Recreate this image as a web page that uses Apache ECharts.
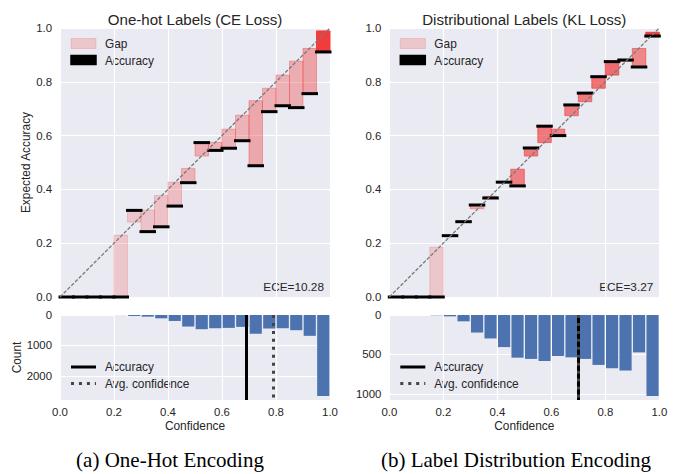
<!DOCTYPE html>
<html>
<head>
<meta charset="utf-8">
<script src="https://cdn.jsdelivr.net/npm/echarts@6/dist/echarts.min.js"></script>
<style>
html,body{margin:0;padding:0;background:#fff;}
#c{width:693px;height:474px;}
</style>
</head>
<body>
<div id="c"></div>
<script>
// ---------- data ----------
const binEdges = [0.00,0.05,0.10,0.15,0.20,0.25,0.30,0.35,0.40,0.45,0.50,0.55,0.60,0.65,0.70,0.75,0.80,0.85,0.90,0.95,1.00];
const xTicks = [0, 0.2, 0.4, 0.6, 0.8, 1.0];

const onehotConf  = [0,0,0,0,0.230,0.278,0.323,0.377,0.427,0.478,0.524,0.575,0.624,0.676,0.730,0.776,0.825,0.877,0.924,0.989];
const onehotAcc   = [0,0,0,0,0,0.322,0.243,0.261,0.338,0.425,0.574,0.545,0.553,0.581,0.488,0.689,0.711,0.704,0.756,0.911];
const onehotCount = [0,0,0,0,4,33,54,109,196,380,467,435,424,391,620,445,435,500,685,2663];
const onehotAvgAcc = 0.694;
const onehotAvgConf = 0.789;
const onehotECE = "ECE=10.28";

const distConf  = [0,0,0,0.185,0.226,0.277,0.328,0.374,0.425,0.475,0.524,0.574,0.624,0.674,0.726,0.776,0.825,0.877,0.924,0.984];
const distAcc   = [0,0,0,0,0.228,0.280,0.342,0.368,0.427,0.413,0.554,0.635,0.600,0.714,0.758,0.819,0.875,0.881,0.855,0.970];
const distCount = [0,0,0,4,17,80,222,297,406,540,556,582,519,536,556,632,674,703,473,1025];
const distAvgAcc = 0.705;
const distAvgConf = 0.701;
const distECE = "ECE=3.27";

const titles = ["One-hot Labels (CE Loss)", "Distributional Labels (KL Loss)"];
const captions = ["(a) One-Hot Encoding", "(b) Label Distribution Encoding"];

// ---------- styling ----------
const FONT = "'Liberation Sans', Arial, sans-serif";
const TXT = "#262626";
const BG = "#EAEAF2";
const HIST = "#4C72B0";

const chart = echarts.init(document.getElementById('c'), null, {renderer: 'svg'});

function gapData(conf, acc, count) {
  const maxC = Math.max(...count);
  return conf.map((c, i) => {
    const a = 0.2 + 0.8 * count[i] / maxC;
    return [binEdges[i], binEdges[i+1], Math.min(c, acc[i]), Math.max(c, acc[i]), a];
  });
}
function accData(acc) {
  return acc.map((a, i) => [binEdges[i], binEdges[i+1], a]);
}
function histData(count) {
  return count.map((n, i) => [binEdges[i], binEdges[i+1], n]);
}

function renderGap(params, api) {
  const x0 = api.value(0), x1 = api.value(1), lo = api.value(2), hi = api.value(3), a = api.value(4);
  const p0 = api.coord([x0, hi]), p1 = api.coord([x1, lo]);
  const col = 'rgba(240,60,60,' + a + ')';
  return {type: 'rect', shape: {x: p0[0], y: p0[1], width: p1[0] - p0[0], height: p1[1] - p0[1]},
          style: {fill: col, stroke: col, lineWidth: 1}};
}
function renderAcc(params, api) {
  const p0 = api.coord([api.value(0), api.value(2)]);
  const p1 = api.coord([api.value(1), api.value(2)]);
  return {type: 'rect', shape: {x: p0[0] - 1.5, y: p0[1] - 1.5, width: p1[0] - p0[0] + 3, height: 3},
          style: {fill: '#000'}};
}
function renderHist(params, api) {
  const x0 = api.value(0), x1 = api.value(1), w = x1 - x0;
  const p0 = api.coord([x0 + w * 0.05, 0]);
  const p1 = api.coord([x1 - w * 0.05, api.value(2)]);
  return {type: 'rect', shape: {x: p0[0], y: Math.min(p0[1], p1[1]), width: p1[0] - p0[0], height: Math.abs(p1[1] - p0[1])},
          style: {fill: HIST}};
}

const lefts = [60, 389.3];
const W = 270;
const grids = [];
lefts.forEach(l => {
  grids.push({left: l, top: 28, width: W, height: 269, backgroundColor: BG, show: true, borderWidth: 0});
  grids.push({left: l, top: 315, width: W, height: 85, backgroundColor: BG, show: true, borderWidth: 0});
});

const axisLabelStyle = {color: TXT, fontFamily: FONT, fontSize: 11.4};
const splitLine = {show: true, lineStyle: {color: '#ffffff', width: 1.1}};

const xAxes = grids.map((g, i) => ({
  type: 'value', gridIndex: i, min: 0, max: 1, interval: 0.2,
  axisLine: {show: false}, axisTick: {show: false}, splitLine,
  axisLabel: Object.assign({show: i % 2 === 1, margin: 6, formatter: v => v.toFixed(1)}, axisLabelStyle),
  name: i % 2 === 1 ? 'Confidence' : '', nameLocation: 'middle', nameGap: 20,
  nameTextStyle: {color: TXT, fontFamily: FONT, fontSize: 11.9}
}));

const histMax = [2796, 1076];
const histInterval = [1000, 500];
const yAxes = [];
[0, 1].forEach(k => {
  yAxes.push({
    type: 'value', gridIndex: 2 * k, min: 0, max: 1, interval: 0.2,
    axisLine: {show: false}, axisTick: {show: false}, splitLine,
    axisLabel: Object.assign({margin: 8, formatter: v => v.toFixed(1)}, axisLabelStyle),
    name: k === 0 ? 'Expected Accuracy' : '', nameLocation: 'middle', nameGap: 26,
    nameTextStyle: {color: TXT, fontFamily: FONT, fontSize: 11.9}
  });
  yAxes.push({
    type: 'value', gridIndex: 2 * k + 1, min: 0, max: histMax[k], interval: histInterval[k], inverse: true,
    axisLine: {show: false}, axisTick: {show: false}, splitLine,
    axisLabel: Object.assign({margin: 8, showMaxLabel: false, formatter: v => String(v)}, axisLabelStyle),
    name: k === 0 ? 'Count' : '', nameLocation: 'middle', nameGap: 30,
    nameTextStyle: {color: TXT, fontFamily: FONT, fontSize: 11.9}
  });
});

const sets = [
  {conf: onehotConf, acc: onehotAcc, count: onehotCount, avgAcc: onehotAvgAcc, avgConf: onehotAvgConf},
  {conf: distConf, acc: distAcc, count: distCount, avgAcc: distAvgAcc, avgConf: distAvgConf}
];
const series = [];
sets.forEach((s, k) => {
  const top = 2 * k, bot = 2 * k + 1;
  series.push({type: 'custom', name: 'Gap', xAxisIndex: top, yAxisIndex: top, renderItem: renderGap,
               data: gapData(s.conf, s.acc, s.count), z: 2, silent: true});
  series.push({type: 'custom', name: 'Accuracy', xAxisIndex: top, yAxisIndex: top, renderItem: renderAcc,
               data: accData(s.acc), z: 3, silent: true});
  series.push({type: 'line', xAxisIndex: top, yAxisIndex: top, data: [[0, 0], [1, 1]], showSymbol: false,
               lineStyle: {color: '#7a7a7a', width: 1.3, type: [3.7, 1.6]}, z: 4, silent: true});
  series.push({type: 'custom', name: 'Count', xAxisIndex: bot, yAxisIndex: bot, renderItem: renderHist,
               data: histData(s.count), z: 2, silent: true});
  series.push({type: 'line', xAxisIndex: bot, yAxisIndex: bot, data: [], silent: true,
               markLine: {symbol: 'none', silent: true, label: {show: false},
                 data: [
                   {xAxis: s.avgAcc, lineStyle: {color: '#000', width: 3, type: 'solid'}},
                   {xAxis: s.avgConf, lineStyle: {color: '#444', width: 3, type: [3, 4.95]}}
                 ]}, z: 5});
});

const graphic = [];
const titleCx = [195, 524.3];
const capCx = [170, 516];
const eceText = [onehotECE, distECE];
[0, 1].forEach(k => {
  const l = lefts[k];
  graphic.push({type: 'text', x: titleCx[k], y: 19, style: {text: titles[k], fill: TXT, font: '15.1px ' + FONT, textAlign: 'center', textVerticalAlign: 'middle'}});
  graphic.push({type: 'text', x: capCx[k], y: 460, style: {text: captions[k], fill: '#000', font: "21px 'Liberation Serif', 'Times New Roman', serif", textAlign: 'center', textVerticalAlign: 'middle'}});
  graphic.push({type: 'text', x: l + 264, y: 287, style: {text: eceText[k], fill: TXT, font: '11.8px ' + FONT, textAlign: 'right', textVerticalAlign: 'middle'}});
  // top legend
  graphic.push({type: 'rect', shape: {x: l + 11, y: 38.5, width: 25, height: 10}, style: {fill: 'rgba(240,60,60,0.2)', stroke: 'rgba(240,60,60,0.2)', lineWidth: 1}});
  graphic.push({type: 'text', x: l + 45, y: 43.5, style: {text: 'Gap', fill: TXT, font: '11.9px ' + FONT, textVerticalAlign: 'middle'}});
  graphic.push({type: 'rect', shape: {x: l + 11, y: 55.5, width: 25, height: 9}, style: {fill: '#000', stroke: '#000', lineWidth: 1.5}});
  graphic.push({type: 'text', x: l + 45, y: 60.5, style: {text: 'Accuracy', fill: TXT, font: '11.9px ' + FONT, textVerticalAlign: 'middle'}});
  // bottom legend
  graphic.push({type: 'line', shape: {x1: l + 11, y1: 367, x2: l + 36, y2: 367}, style: {stroke: '#000', lineWidth: 3}});
  graphic.push({type: 'text', x: l + 45, y: 367, style: {text: 'Accuracy', fill: TXT, font: '11.9px ' + FONT, textVerticalAlign: 'middle'}});
  graphic.push({type: 'line', shape: {x1: l + 11, y1: 383.5, x2: l + 36, y2: 383.5}, style: {stroke: '#444', lineWidth: 3, lineDash: [3, 4.95]}});
  graphic.push({type: 'text', x: l + 45, y: 383.5, style: {text: 'Avg. confidence', fill: TXT, font: '11.9px ' + FONT, textVerticalAlign: 'middle'}});
});

chart.setOption({
  animation: false,
  backgroundColor: '#ffffff',
  textStyle: {fontFamily: FONT},
  grid: grids,
  xAxis: xAxes,
  yAxis: yAxes,
  series,
  graphic
});
</script>
</body>
</html>
